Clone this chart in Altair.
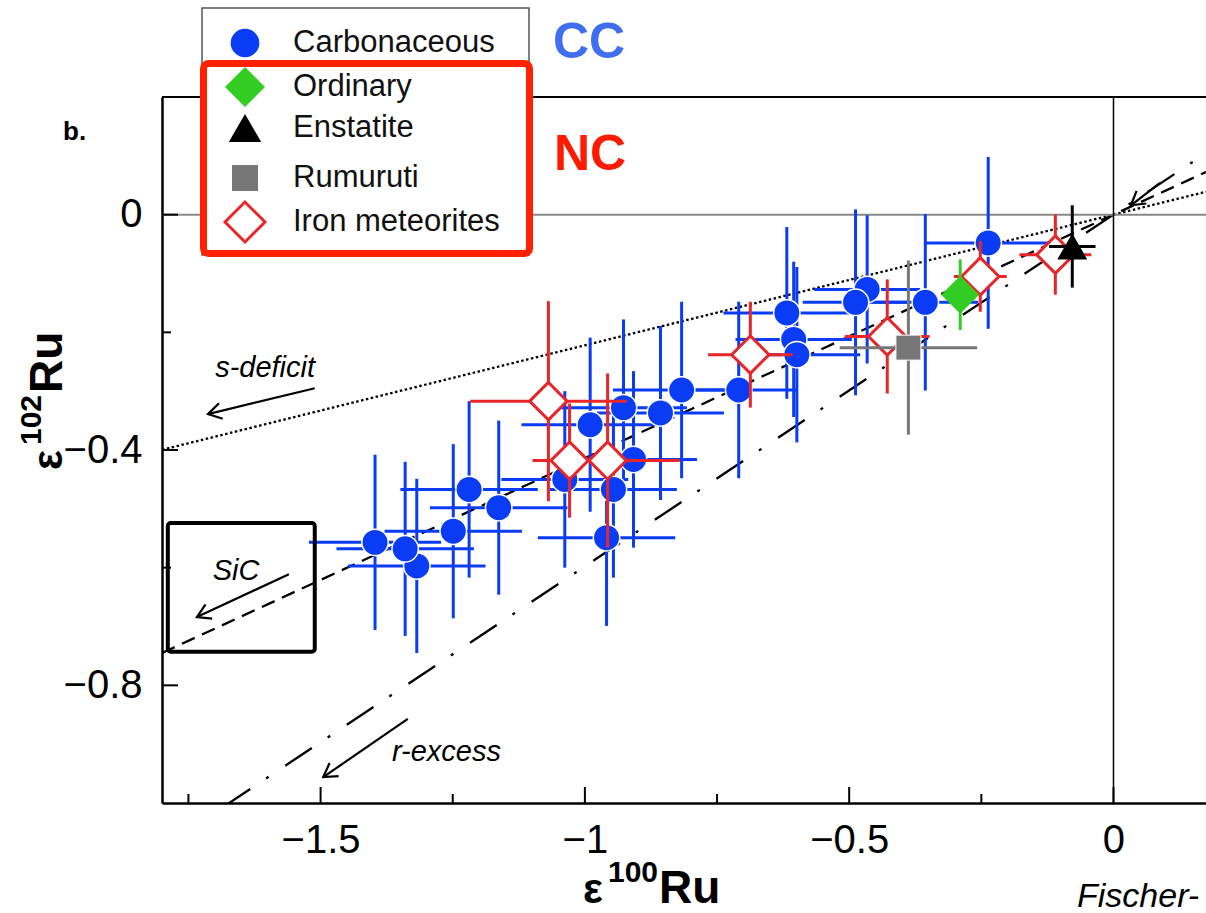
import math
import altair as alt
import pandas as pd

# ---------------- data ----------------
# Carbonaceous chondrites (blue circles)
cc_x    = [-0.466, -0.237, -0.356, -0.488, -0.618, -0.605, -0.599, -0.709, -0.817, -0.857, -0.927,
           -0.990, -0.908, -1.038, -0.946, -0.959, -1.163, -1.219, -1.249, -1.397, -1.318, -1.340]
cc_y    = [-0.127, -0.048, -0.149, -0.149, -0.167, -0.212, -0.238, -0.298, -0.298, -0.337, -0.328,
           -0.357, -0.416, -0.450, -0.467, -0.549, -0.498, -0.467, -0.538, -0.557, -0.597, -0.568]
cc_xerr = [0.10, 0.12, 0.10, 0.10, 0.12, 0.11, 0.12, 0.11, 0.13, 0.12, 0.12,
           0.13, 0.12, 0.12, 0.12, 0.13, 0.13, 0.13, 0.13, 0.125, 0.13, 0.13]
cc_yerr = [0.126, 0.146, 0.15, 0.158, 0.146, 0.132, 0.149, 0.15, 0.15, 0.148, 0.15,
           0.148, 0.15, 0.15, 0.15, 0.15, 0.148, 0.15, 0.148, 0.149, 0.148, 0.148]

# Iron meteorites (open red diamonds)
iron_x    = [-0.110, -0.252, -0.428, -0.687, -1.069, -1.029, -0.957]
iron_y    = [-0.068, -0.105, -0.207, -0.238, -0.317, -0.418, -0.418]
iron_xerr = [0.068, 0.05, 0.08, 0.08, 0.148, 0.07, 0.136]
iron_yerr = [0.068, 0.06, 0.097, 0.09, 0.17, 0.097, 0.148]

# Rumuruti (grey square), Ordinary (green diamond), Enstatite (black triangle)
rum_x, rum_y, rum_xerr, rum_yerr = [-0.388], [-0.226], [0.13], [0.148]
ord_x, ord_y, ord_xerr, ord_yerr = [-0.290], [-0.136], [0.02], [0.06]
ens_x, ens_y, ens_xerr, ens_yerr = [-0.078], [-0.054], [0.044], [0.07]

# reference lines through the origin (end points)
line_x      = [-1.8, 0.175]
sdef_line_y = [-0.3996, 0.0389]
sic_line_y  = [-0.745, 0.0725]
rexc_line_y = [-1.076, 0.1047]

# axis ticks
x_major = [-1.5, -1.0, -0.5, 0.0]
x_minor = [-1.75, -1.25, -0.75, -0.25]
y_major = [0.0, -0.4, -0.8]
y_minor = [-0.2, -0.6]

# annotation texts and arrows (data coordinates)
ann_text   = ["s-deficit", "SiC"]
ann_text_x = [-1.605, -1.660]
ann_text_y = [-0.261, -0.606]
rexc_text, rexc_x, rexc_y = ["r-excess"], [-1.365], [-0.913]
arrow_x1 = [-1.511, -1.560, -1.335, 0.088]
arrow_y1 = [-0.295, -0.611, -0.857, 0.054]
arrow_x2 = [-1.713, -1.734, -1.495, 0.033]
arrow_y2 = [-0.339, -0.684, -0.956, 0.016]
sic_box = {"x1": [-1.789], "x2": [-1.511], "y1": [-0.524], "y2": [-0.743]}

legend_labels = ["Carbonaceous", "Ordinary", "Enstatite", "Rumuruti", "Iron meteorites"]

# ---------------- layout / style ----------------
W, H = 1044, 706
PAD = {"left": 162, "top": 97, "right": 0, "bottom": 110}
XDOM = [-1.8, 0.175]
YDOM = [-1.0, 0.2]
FONT = "Liberation Sans"
BLUE = "#0a3cf5"
RED = "#e8262a"
GREEN = "#33cc22"
GREY = "#777777"

XS = alt.Scale(domain=XDOM, nice=False, zero=False)
YS = alt.Scale(domain=YDOM, nice=False, zero=False)

XA = alt.Axis(values=x_major, format="~g", title=None, grid=False, ticks=False,
              domainColor="black", domainWidth=2.5, labelFont=FONT, labelFontSize=40,
              labelColor="black", labelPadding=17, labelFlush=False)
YA = alt.Axis(values=y_major, format="~g", title=None, grid=False, ticks=False,
              domainColor="black", domainWidth=2.5, labelFont=FONT, labelFontSize=40,
              labelColor="black", labelPadding=20)


def qx(f):
    return alt.X(f, type="quantitative", scale=XS, axis=XA)


def qy(f):
    return alt.Y(f, type="quantitative", scale=YS, axis=YA)


one = pd.DataFrame({"a": [0]})


def group_df(xs, ys, xe, ye):
    df = pd.DataFrame({"x": xs, "y": ys, "xe": xe, "ye": ye})
    df["xlo"] = df.x - df.xe
    df["xhi"] = df.x + df.xe
    df["ylo"] = df.y - df.ye
    df["yhi"] = df.y + df.ye
    return df


def err_layers(df, color, width=3):
    h = alt.Chart(df).mark_rule(color=color, strokeWidth=width, clip=True).encode(
        x=qx("xlo"), x2="xhi", y=qy("y"))
    v = alt.Chart(df).mark_rule(color=color, strokeWidth=width, clip=True).encode(
        x=qx("x"), y=qy("ylo"), y2="yhi")
    return [h, v]


layers = []


def ref_line(ys, dash):
    df = pd.DataFrame({"x": line_x, "y": ys})
    return alt.Chart(df).mark_line(color="black", strokeWidth=2.3, strokeDash=dash, clip=True).encode(
        x=qx("x"), y=qy("y"))


layers.append(ref_line(sdef_line_y, [2.5, 2.5]))
layers.append(ref_line(sic_line_y, [14, 8]))
layers.append(ref_line(rexc_line_y, [32, 19, 3, 20]))

# zero lines
zero = pd.DataFrame({"v": [0.0]})
layers.append(alt.Chart(zero).mark_rule(color="#888888", strokeWidth=2).encode(y=qy("v")))
layers.append(alt.Chart(zero).mark_rule(color="black", strokeWidth=1.5).encode(x=qx("v")))

# data groups
cc = group_df(cc_x, cc_y, cc_xerr, cc_yerr)
iron = group_df(iron_x, iron_y, iron_xerr, iron_yerr)
rum = group_df(rum_x, rum_y, rum_xerr, rum_yerr)
ordn = group_df(ord_x, ord_y, ord_xerr, ord_yerr)
ens = group_df(ens_x, ens_y, ens_xerr, ens_yerr)

layers += err_layers(cc, BLUE)
layers.append(alt.Chart(cc).mark_point(shape="circle", filled=True, size=700, fill=BLUE, stroke="white",
                                       strokeWidth=1.5, opacity=1).encode(x=qx("x"), y=qy("y")))
layers += err_layers(iron, RED)
layers.append(alt.Chart(iron).mark_point(shape="diamond", filled=True, size=1400, fill="white", stroke=RED,
                                         strokeWidth=3, opacity=1).encode(x=qx("x"), y=qy("y")))
layers += err_layers(rum, GREY)
layers.append(alt.Chart(rum).mark_point(shape="square", filled=True, size=625, fill=GREY, stroke="white",
                                        strokeWidth=1, opacity=1).encode(x=qx("x"), y=qy("y")))
layers += err_layers(ordn, GREEN)
layers.append(alt.Chart(ordn).mark_point(shape="diamond", filled=True, size=1444, fill=GREEN, strokeWidth=0,
                                         opacity=1).encode(x=qx("x"), y=qy("y")))
layers += err_layers(ens, "black")
layers.append(alt.Chart(ens).mark_point(shape="triangle-up", filled=True, size=900, fill="black", strokeWidth=0,
                                        opacity=1).encode(x=qx("x"), y=qy("y")))

# inward ticks
layers.append(alt.Chart(pd.DataFrame({"v": x_major})).mark_rule(color="black", strokeWidth=2).encode(
    x=qx("v"), y=alt.value(H), y2=alt.value(H - 16)))
layers.append(alt.Chart(pd.DataFrame({"v": x_minor})).mark_rule(color="black", strokeWidth=2).encode(
    x=qx("v"), y=alt.value(H), y2=alt.value(H - 9)))
layers.append(alt.Chart(pd.DataFrame({"v": y_major})).mark_rule(color="black", strokeWidth=2).encode(
    y=qy("v"), x=alt.value(0), x2=alt.value(16)))
layers.append(alt.Chart(pd.DataFrame({"v": y_minor})).mark_rule(color="black", strokeWidth=2).encode(
    y=qy("v"), x=alt.value(0), x2=alt.value(9)))
# top frame line
layers.append(alt.Chart(one).mark_rule(color="black", strokeWidth=2).encode(
    x=alt.value(0), x2=alt.value(W), y=alt.value(0)))

# SiC box
layers.append(alt.Chart(pd.DataFrame(sic_box)).mark_rect(fillOpacity=0, stroke="black", strokeWidth=4,
                                                         cornerRadius=3).encode(
    x=qx("x1"), x2="x2", y=qy("y1"), y2="y2"))

# arrows
px_x = W / (XDOM[1] - XDOM[0])
px_y = H / (YDOM[1] - YDOM[0])
arr = pd.DataFrame({"x1": arrow_x1, "y1": arrow_y1, "x2": arrow_x2, "y2": arrow_y2})
arr["angle"] = [
    (math.degrees(math.atan2(-(b2 - b1) * px_y, (a2 - a1) * px_x)) + 360) % 360
    for a1, b1, a2, b2 in zip(arrow_x1, arrow_y1, arrow_x2, arrow_y2)
]
layers.append(alt.Chart(arr).mark_rule(color="black", strokeWidth=2.2, clip=True).encode(
    x=qx("x1"), y=qy("y1"), x2="x2", y2="y2"))
layers.append(alt.Chart(arr).mark_point(shape="M -1 -0.6 L 0 0 L -1 0.6", size=700, filled=False,
                                        stroke="black", strokeWidth=2.2, opacity=1, clip=True).encode(
    x=qx("x2"), y=qy("y2"), angle=alt.Angle("angle", type="quantitative", scale=None)))

# annotation texts
layers.append(alt.Chart(pd.DataFrame({"t": ann_text, "x": ann_text_x, "y": ann_text_y})).mark_text(
    font=FONT, fontSize=29, fontStyle="italic", align="center", baseline="middle", color="black").encode(
    x=qx("x"), y=qy("y"), text="t"))
layers.append(alt.Chart(pd.DataFrame({"t": rexc_text, "x": rexc_x, "y": rexc_y})).mark_text(
    font=FONT, fontSize=29, fontStyle="italic", align="left", baseline="middle", color="black").encode(
    x=qx("x"), y=qy("y"), text="t"))

# ---------------- legend ----------------
layers.append(alt.Chart(one).mark_rect(fill="white", stroke="#555555", strokeWidth=1.5).encode(
    x=alt.value(40), x2=alt.value(367), y=alt.value(-89), y2=alt.value(158)))
layers.append(alt.Chart(one).mark_rect(fill="white", fillOpacity=0, stroke="#ff2200", strokeWidth=7,
                                       cornerRadius=5).encode(
    x=alt.value(41.5), x2=alt.value(367.5), y=alt.value(-33.5), y2=alt.value(156.5)))
LX, LTX = 83, 131
LY = [-54, -10, 31, 81, 125]
layers.append(alt.Chart(one).mark_point(shape="circle", filled=True, size=820, fill=BLUE, strokeWidth=0,
                                        opacity=1).encode(x=alt.value(LX), y=alt.value(LY[0])))
layers.append(alt.Chart(one).mark_point(shape="diamond", filled=True, size=1600, fill=GREEN, strokeWidth=0,
                                        opacity=1).encode(x=alt.value(LX), y=alt.value(LY[1])))
layers.append(alt.Chart(one).mark_point(shape="triangle-up", filled=True, size=1050, fill="black",
                                        strokeWidth=0, opacity=1).encode(x=alt.value(LX), y=alt.value(LY[2])))
layers.append(alt.Chart(one).mark_point(shape="square", filled=True, size=676, fill=GREY, strokeWidth=0,
                                        opacity=1).encode(x=alt.value(LX), y=alt.value(LY[3])))
layers.append(alt.Chart(one).mark_point(shape="diamond", filled=True, size=1600, fill="white", stroke=RED,
                                        strokeWidth=3, opacity=1).encode(x=alt.value(LX), y=alt.value(LY[4])))
for lab, ly in zip(legend_labels, LY):
    layers.append(alt.Chart(one).mark_text(font=FONT, fontSize=31, align="left", baseline="middle",
                                           color="#111111", text=lab).encode(
        x=alt.value(LTX), y=alt.value(ly)))
layers.append(alt.Chart(one).mark_text(font=FONT, fontSize=50, fontWeight="bold", align="left",
                                       baseline="middle", color="#3f6ef0", text="CC").encode(
    x=alt.value(391), y=alt.value(-54)))
layers.append(alt.Chart(one).mark_text(font=FONT, fontSize=50, fontWeight="bold", align="left",
                                       baseline="middle", color="#ff1a00", text="NC").encode(
    x=alt.value(392), y=alt.value(58)))


# ---------------- titles ----------------
def txt(t, x, y, size, weight="bold", style="normal", angle=0, align="left", color="black"):
    return alt.Chart(one).mark_text(font=FONT, fontSize=size, fontWeight=weight, fontStyle=style,
                                    angle=angle, align=align, baseline="alphabetic", color=color,
                                    text=t).encode(x=alt.value(x), y=alt.value(y))


layers.append(txt("b.", -99, 43, 26))
# x title  ε^100 Ru
layers.append(txt("ε", 421, 806, 42))
layers.append(txt("100", 446, 785, 30))
layers.append(txt("Ru", 497, 806, 46))
# y title  ε^102 Ru (rotated)
layers.append(txt("ε", -100, 373, 42, angle=270))
layers.append(txt("102", -121, 348, 30, angle=270))
layers.append(txt("Ru", -100, 296, 46, angle=270))
# source credit, which the picture cuts at its right edge
layers.append(txt("Fischer-", 915, 810, 34, weight="normal", style="italic"))

chart = alt.layer(*layers).properties(
    width=W, height=H,
    autosize=alt.AutoSizeParams(type="none"),
    padding=PAD,
).configure_view(stroke=None)

chart.save("out.html", embed_options={"renderer": "svg", "actions": False})
